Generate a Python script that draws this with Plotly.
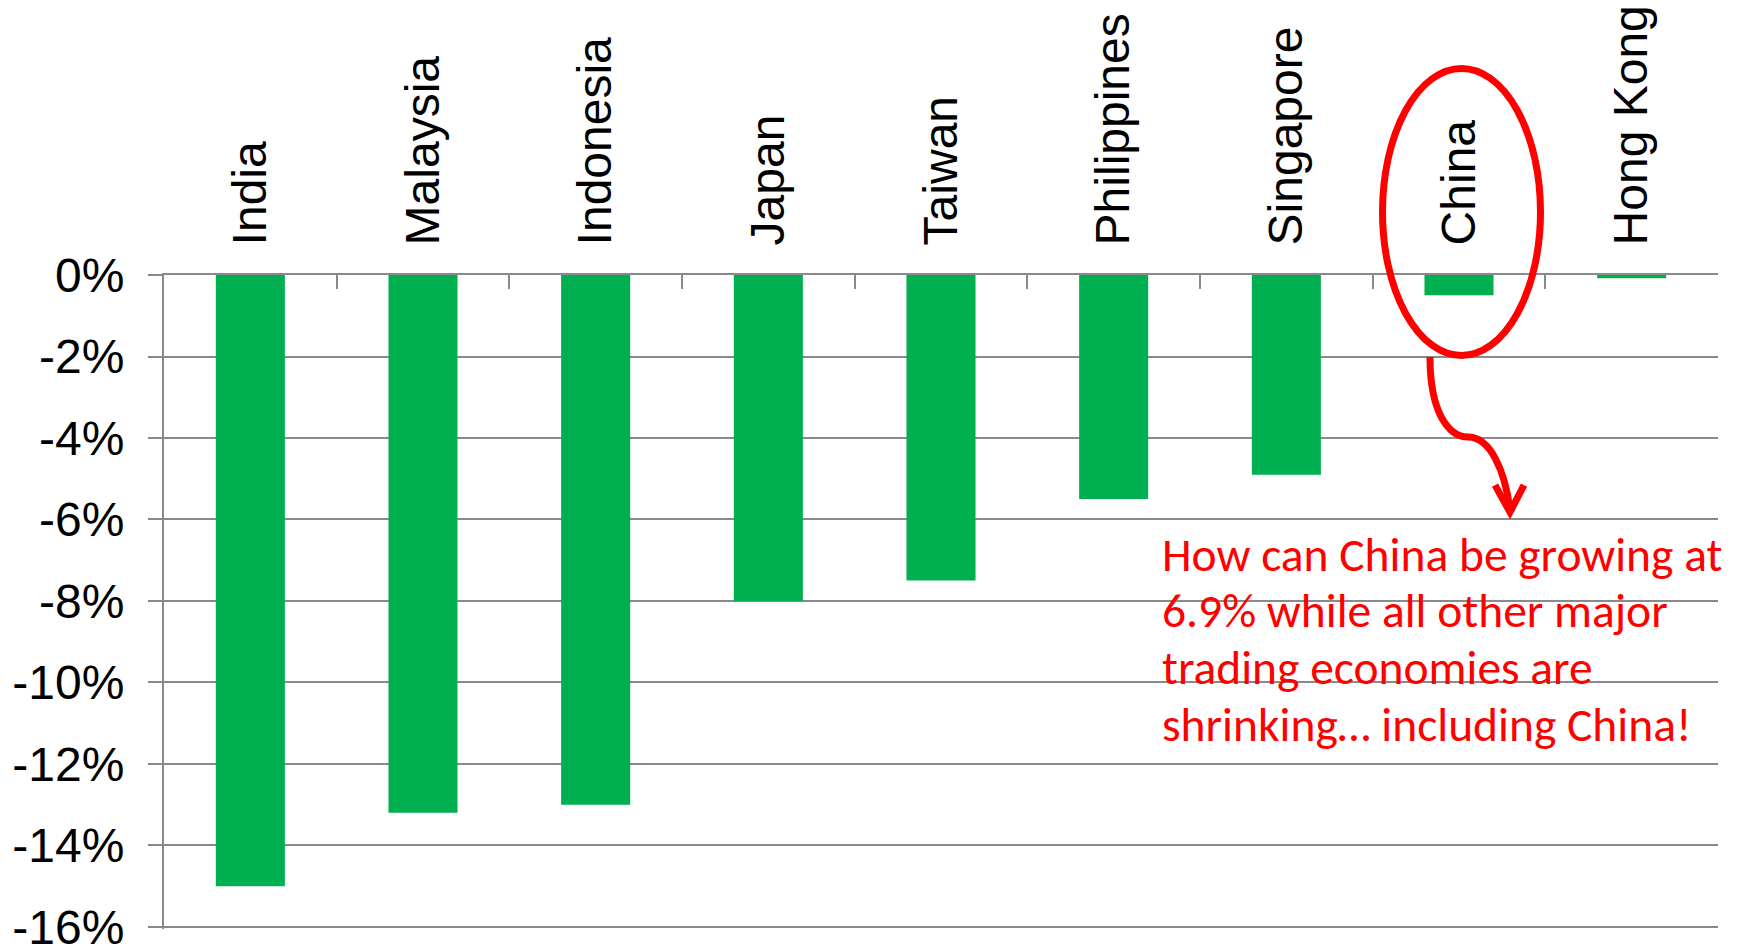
import plotly.graph_objects as go

countries = ["India", "Malaysia", "Indonesia", "Japan", "Taiwan",
             "Philippines", "Singapore", "China", "Hong Kong"]
change_pct = [-15.0, -13.2, -13.0, -8.0, -7.5, -5.5, -4.9, -0.5, -0.08]
y_tick_vals = [0, -2, -4, -6, -8, -10, -12, -14, -16]
y_tick_text = ["0%", "-2%", "-4%", "-6%", "-8%", "-10%", "-12%", "-14%", "-16%"]
note_lines = ["How can China be growing at",
              "6.9% while all other major",
              "trading economies are",
              "shrinking\u2026 including China!"]

W, H = 1744, 947
Y_MIN = -16.05
PX_PER_UNIT = 40.73
L, R, T = 164, 1718, 275
B = T + (-Y_MIN) * PX_PER_UNIT

def px(x):
    return (x - L) / (R - L)

def py(y):
    return (B - y) / (B - T)

GRID = "#8a8a8a"
RED = "#ff0000"

fig = go.Figure(go.Bar(x=countries, y=change_pct, marker_color="#00b050",
                       marker_line_width=0, width=0.4))

fig.update_layout(
    width=W, height=H,
    margin=dict(l=L, r=W - R, t=T, b=H - B, pad=0, autoexpand=False),
    plot_bgcolor="white", paper_bgcolor="white",
    showlegend=False,
    font=dict(family="Arial, Liberation Sans, sans-serif", color="black", size=48),
)

fig.update_xaxes(
    side="top", tickangle=-90, showline=True, linecolor=GRID, linewidth=2,
    ticks="inside", ticklen=14, tickwidth=2, tickcolor=GRID,
    tickson="boundaries", showgrid=False, ticklabelstandoff=18,
    tickfont=dict(size=48), range=[-0.5, 8.5], automargin=False,
    ticklabeloverflow="allow",
)
fig.update_yaxes(
    range=[Y_MIN, 0], tickvals=y_tick_vals, ticktext=y_tick_text,
    showline=True, linecolor=GRID, linewidth=2,
    ticks="outside", ticklen=14, tickwidth=2, tickcolor=GRID,
    showgrid=True, gridcolor=GRID, gridwidth=2, zeroline=False,
    ticklabelstandoff=14, tickfont=dict(size=48), automargin=False,
    ticklabeloverflow="allow",
)

# red ellipse around China
fig.add_shape(type="circle", xref="paper", yref="paper",
              x0=px(1382.5), x1=px(1540.5), y0=py(355.5), y1=py(68.5),
              line=dict(color=RED, width=7))

def path(points_cmds):
    out = []
    for cmd, pts in points_cmds:
        coords = " ".join(f"{px(x):.5f},{py(y):.5f}" for x, y in pts)
        out.append(f"{cmd} {coords}")
    return " ".join(out)

curve = path([("M", [(1430, 357)]),
              ("C", [(1430, 415), (1450, 437), (1468, 437)]),
              ("C", [(1490, 437), (1505, 470), (1510, 510)])])
fig.add_shape(type="path", xref="paper", yref="paper", path=curve,
              line=dict(color=RED, width=7))
head = path([("M", [(1495, 485)]), ("L", [(1510, 512)]), ("L", [(1524, 485)])])
fig.add_shape(type="path", xref="paper", yref="paper", path=head,
              line=dict(color=RED, width=7))

line_mid_y = [555, 611, 668, 725]
for txt, ym in zip(note_lines, line_mid_y):
    fig.add_annotation(xref="paper", yref="paper", x=px(1160), y=py(ym),
                       xanchor="left", yanchor="middle", align="left", showarrow=False,
                       text=txt,
                       font=dict(family="Carlito, Calibri, Lato, sans-serif", size=47.5, color=RED))

fig.write_html("out.html")
